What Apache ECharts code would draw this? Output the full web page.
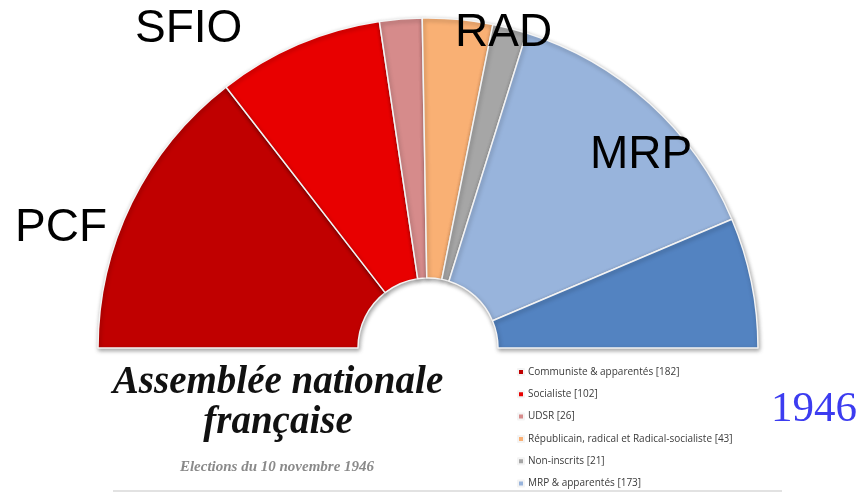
<!DOCTYPE html>
<html>
<head>
<meta charset="utf-8">
<script src="https://cdn.jsdelivr.net/npm/echarts@6/dist/echarts.min.js"></script>
<style>
  html, body { margin: 0; padding: 0; background: #fff; }
  #chart { width: 868px; height: 494px; }
</style>
</head>
<body>
<div id="chart"></div>
<script>
// partis (dans l'ordre de l'hémicycle, de gauche à droite)
const parties = [
  'Communiste & apparentés',
  'Socialiste',
  'UDSR',
  'Républicain, radical et Radical-socialiste',
  'Non-inscrits',
  'MRP & apparentés',
  'PRL & modérés'
];
// sièges
const seats = [182, 102, 26, 43, 21, 173, 80];
const colors = ['#c00000', '#e80000', '#d68b8b', '#f9b074', '#a6a6a6', '#98b4dc', '#5383c1'];
// étiquettes sur le graphique
const bigLabels = ['PCF', 'SFIO', 'RAD', 'MRP'];
const titleLines = ['Assemblée nationale', 'française'];
const subtitle = 'Elections du 10 novembre 1946';
const yearText = '1946';

const chart = echarts.init(document.getElementById('chart'));

const bigFont = '46px "Liberation Sans", Arial, sans-serif';
const bigPos = [[15, 205], [135, 6], [455, 10], [590, 132]];
const titleFont = 'italic bold 39px "Liberation Serif", "Times New Roman", serif';

chart.setOption({
  backgroundColor: '#fff',
  animation: false,
  color: colors,
  legend: {
    orient: 'vertical',
    left: 512,
    top: 362,
    icon: 'rect',
    itemWidth: 6,
    itemHeight: 6,
    itemGap: 12.3,
    selectedMode: false,
    // la dernière entrée est coupée dans l'original
    data: parties.slice(0, 6),
    formatter: function(name) {
      return name + ' [' + seats[parties.indexOf(name)] + ']';
    },
    textStyle: {
      fontFamily: '"Open Sans", sans-serif',
      fontSize: 10,
      color: '#3a3a3a',
      padding: [0, 0, 0, -1]
    }
  },
  series: [{
    type: 'pie',
    center: [428, 348],
    radius: [70, 330],
    startAngle: 180,
    endAngle: 0,
    clockwise: true,
    z: 1,
    label: { show: false },
    labelLine: { show: false },
    emphasis: { disabled: true },
    itemStyle: {
      borderColor: '#f4f4f4',
      borderWidth: 1.5,
      shadowBlur: 4,
      shadowColor: 'rgba(0,0,0,0.35)',
      shadowOffsetX: 1,
      shadowOffsetY: 2
    },
    data: parties.map(function(p, i) {
      return { name: p, value: seats[i] };
    })
  }],
  graphic: [
    ...bigLabels.map(function(t, i) {
      return {
        type: 'text',
        z: 100,
        x: bigPos[i][0],
        y: bigPos[i][1],
        style: { text: t, font: bigFont, fill: '#000' }
      };
    }),
    {
      type: 'text',
      z: 100,
      x: 278, y: 363,
      style: { text: titleLines[0], font: titleFont, fill: '#111', align: 'center' }
    },
    {
      type: 'text',
      z: 100,
      x: 278, y: 403,
      style: { text: titleLines[1], font: titleFont, fill: '#111', align: 'center' }
    },
    {
      type: 'text',
      z: 100,
      x: 277, y: 460,
      style: {
        text: subtitle,
        font: 'italic bold 15px "Liberation Serif", "Times New Roman", serif',
        fill: '#8a8a8a',
        align: 'center'
      }
    },
    {
      type: 'text',
      z: 100,
      x: 814, y: 388,
      style: {
        text: yearText,
        font: '43px "Liberation Serif", "Times New Roman", serif',
        fill: '#3c3cf0',
        align: 'center'
      }
    },
    {
      type: 'line',
      z: 100,
      shape: { x1: 113, y1: 491, x2: 782, y2: 491 },
      style: { stroke: '#d8d8d8', lineWidth: 1.5 }
    }
  ]
});
</script>
</body>
</html>
